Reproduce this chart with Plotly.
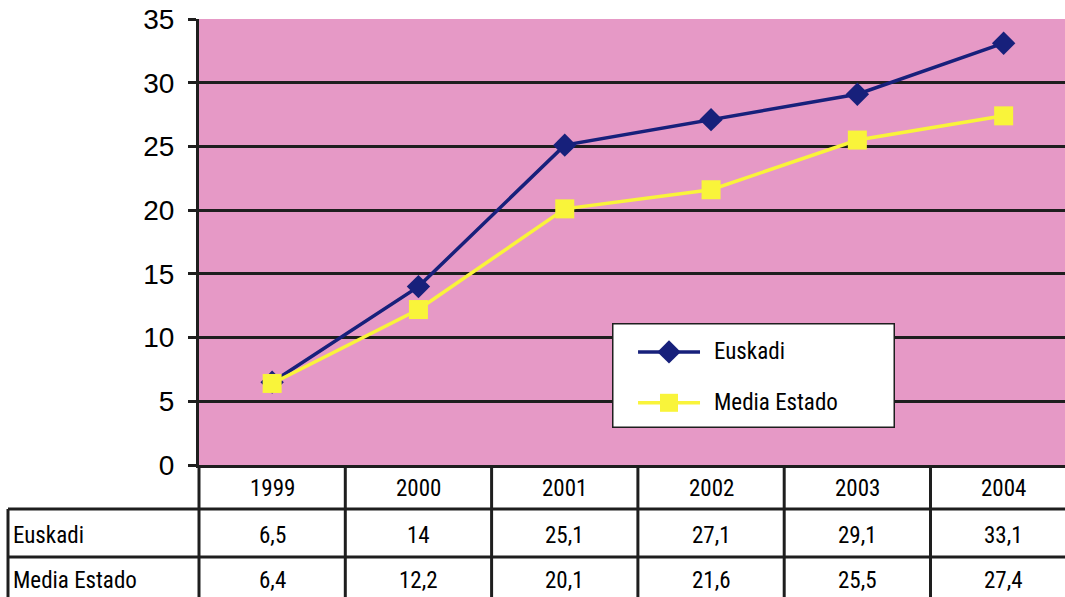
import plotly.graph_objects as go

# Data
years = ["1999", "2000", "2001", "2002", "2003", "2004"]
euskadi = [6.5, 14, 25.1, 27.1, 29.1, 33.1]
media_estado = [6.4, 12.2, 20.1, 21.6, 25.5, 27.4]
series_names = ["Euskadi", "Media Estado"]
y_ticks = [0, 5, 10, 15, 20, 25, 30, 35]

# Layout geometry (pixels)
W, H = 1065, 597
L, T, B = 199, 19, 132
PLOT_H = H - T - B
PLOT_W = W - L
COL_W = 146.3

PINK = "#E699C6"
NAVY = "#17207B"
YELLOW = "#F9F43A"
LINE = "#1E1E1E"
NARROW = "Roboto Condensed, Liberation Sans Narrow, Arial Narrow, sans-serif"


def py(pix):
    """pixel row -> paper y"""
    return (H - B - pix) / PLOT_H


def px(pix):
    """pixel column -> paper x"""
    return (pix - L) / PLOT_W


xi = list(range(len(years)))
x_max = -0.5 + PLOT_W / COL_W

fig = go.Figure()

fig.add_trace(go.Scatter(
    x=xi, y=euskadi, mode="lines+markers", name=series_names[0],
    line=dict(color=NAVY, width=3.5),
    marker=dict(symbol="diamond", size=18, color=NAVY),
    cliponaxis=False, showlegend=False,
))
fig.add_trace(go.Scatter(
    x=xi, y=media_estado, mode="lines+markers", name=series_names[1],
    line=dict(color=YELLOW, width=3.5),
    marker=dict(symbol="square", size=19, color=YELLOW),
    cliponaxis=False, showlegend=False,
))

# Legend drawn on its own small subplot
fig.add_trace(go.Scatter(
    x=[0, 1, 1, 0, 0], y=[0, 0, 1, 1, 0], mode="lines", fill="toself",
    fillcolor="white", line=dict(color=LINE, width=3),
    xaxis="x2", yaxis="y2", cliponaxis=False, showlegend=False, hoverinfo="skip",
))
leg_rows = [0.725, 0.24]
for name, color, sym, yy in [
    (series_names[0], NAVY, "diamond", leg_rows[0]),
    (series_names[1], YELLOW, "square", leg_rows[1]),
]:
    fig.add_trace(go.Scatter(
        x=[0.092, 0.311], y=[yy, yy], mode="lines", line=dict(color=color, width=3.5),
        xaxis="x2", yaxis="y2", showlegend=False, hoverinfo="skip",
    ))
    fig.add_trace(go.Scatter(
        x=[0.2015], y=[yy], mode="markers",
        marker=dict(symbol=sym, size=18, color=color),
        xaxis="x2", yaxis="y2", showlegend=False, hoverinfo="skip",
    ))
    fig.add_annotation(
        x=0.353, y=yy, xref="x2", yref="y2", text=name, showarrow=False,
        xanchor="left", yanchor="middle", font=dict(family=NARROW, size=23, color="black"),
    )

# Data table below the plot
shapes = []
table_bottom = py(H + 5)
row_lines = [py(509), py(557)]
for i in range(len(years) - 1):
    shapes.append(dict(type="line", xref="x", yref="paper", x0=i + 0.5, x1=i + 0.5,
                       y0=0, y1=table_bottom, line=dict(color=LINE, width=3)))
shapes.append(dict(type="line", xref="paper", yref="paper", x0=0, x1=0,
                   y0=0, y1=table_bottom, line=dict(color=LINE, width=3)))
shapes.append(dict(type="line", xref="paper", yref="paper", x0=px(8), x1=px(8),
                   y0=row_lines[0], y1=table_bottom, line=dict(color=LINE, width=3)))
for ry in row_lines:
    shapes.append(dict(type="line", xref="paper", yref="paper", x0=px(8), x1=1.01,
                       y0=ry, y1=ry, line=dict(color=LINE, width=3)))

cell_font = dict(family=NARROW, size=23, color="black")
row_centers = [py(488), py(535), py(580)]
for i, yr in enumerate(years):
    fig.add_annotation(x=i, y=row_centers[0], xref="x", yref="paper", text=yr,
                       showarrow=False, font=cell_font, yanchor="middle")
for vals, rc, name in [(euskadi, row_centers[1], series_names[0]),
                       (media_estado, row_centers[2], series_names[1])]:
    fig.add_annotation(x=px(11), y=rc, xref="paper", yref="paper", text=name,
                       showarrow=False, font=cell_font, xanchor="left", yanchor="middle")
    for i, v in enumerate(vals):
        fig.add_annotation(x=i, y=rc, xref="x", yref="paper",
                           text=f"{v:g}".replace(".", ","),
                           showarrow=False, font=cell_font, yanchor="middle")

fig.update_layout(
    width=W, height=H,
    margin=dict(l=L, r=0, t=T, b=B, pad=0),
    paper_bgcolor="white", plot_bgcolor=PINK,
    showlegend=False,
    shapes=shapes,
    xaxis=dict(range=[-0.5, x_max], showticklabels=False, showgrid=False, zeroline=False,
               showline=True, linecolor=LINE, linewidth=3, ticks=""),
    yaxis=dict(range=[0, 35], tickvals=y_ticks, showgrid=True, gridcolor=LINE, gridwidth=3,
               zeroline=False, showline=True, linecolor=LINE, linewidth=3,
               ticks="outside", ticklen=8, tickwidth=3, tickcolor=LINE,
               ticklabelstandoff=8,
               tickfont=dict(family="Liberation Sans, Arial, sans-serif", size=28, color="black")),
    xaxis2=dict(domain=[px(612), px(895)], range=[0, 1], visible=False, anchor="y2",
                fixedrange=True),
    yaxis2=dict(domain=[py(428), py(323)], range=[0, 1], visible=False, anchor="x2",
                fixedrange=True),
)

fig.write_html("out.html")
